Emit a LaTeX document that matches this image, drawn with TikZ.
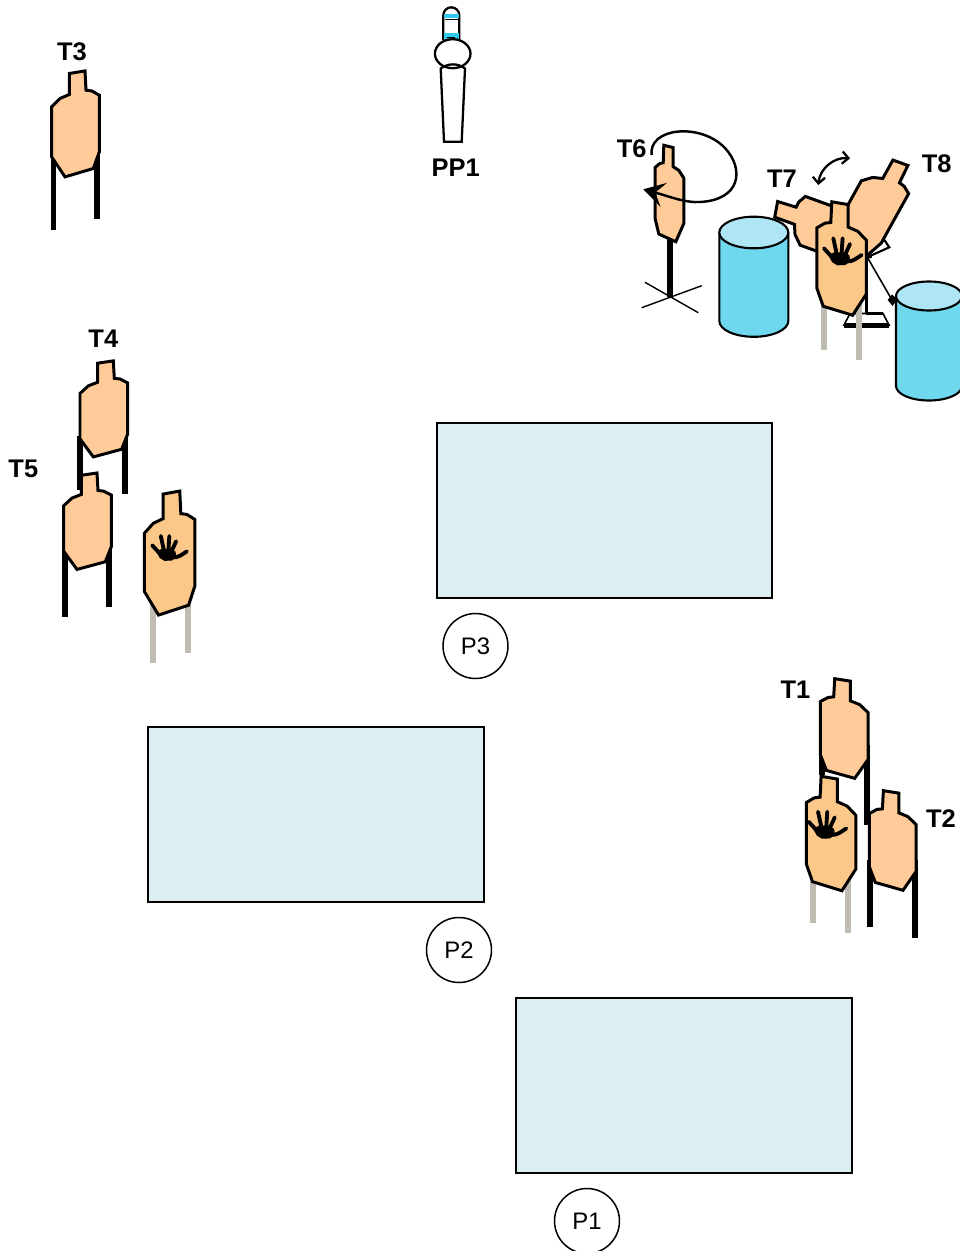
\documentclass[tikz,border=0pt]{standalone}
\usepackage{fontspec}
\setmainfont{Liberation Sans}
\usetikzlibrary{arrows.meta}

\definecolor{paper}{HTML}{FFCC99}
\definecolor{noshoot}{HTML}{FBC88A}
\definecolor{legs}{HTML}{C0BCB4}
\definecolor{tablefill}{HTML}{DDEEF2}
\definecolor{barrelside}{HTML}{70D8EE}
\definecolor{barreltop}{HTML}{AEE6F6}
\definecolor{stripe}{HTML}{2DC8EC}

\begin{document}
\begin{tikzpicture}[x=0.02cm,y=-0.02cm,
    lbl/.style={font=\fontsize{14.5}{17}\selectfont\bfseries},
    station/.style={circle,draw,line width=0.85pt,minimum size=1.3cm,inner sep=0pt,font=\fontsize{13.6}{16}\selectfont},
    prop/.style={fill=tablefill,line width=0.8pt},
    leg/.style={line width=3.2pt},
    greyleg/.style={line width=3.2pt,draw=legs},
    silhouette/.pic={
        \filldraw[line width=1.7pt,pic actions] (-6.2,-50.2) -- (9.5,-52.8) -- (10.5,-33.5) -- (16.2,-32.8) -- (23.8,-28.5)
            -- (23.8,28.2) -- (17.8,44.8) -- (-10.5,53.2) -- (-23.8,33.2) -- (-23.8,-16.8) -- (-15.5,-25.2) -- (-6.2,-29.2) -- cycle;
    },
    hand/.pic={
        \fill (-11,-3) -- (-5,-6) -- (5,-6) -- (10,-3) -- (11,3) -- (6,6.7) -- (-2,7) -- (-7,4) -- cycle;
        \draw[line width=2.2pt,line cap=round] (-8,-2) -- (-15.4,-10) (-2.7,-5) -- (-6,-20) (2.3,-5) -- (3.3,-20) (5.7,-3.3) -- (10.7,-14.3);
        \draw[line width=2.2pt,line cap=round] (7,3) .. controls (13,4) and (17,0) .. (22.3,-3.3);
    }]
    \useasboundingbox (0,0) rectangle (960,1251);

    \filldraw[prop] (437,423) rectangle (772,598);
    \filldraw[prop] (148,727) rectangle (484,902);
    \filldraw[prop] (516,998) rectangle (852,1173);

    \node[station] (p3) at (475.5,646) {P3};
    \node[station] (p2) at (459,950) {P2};
    \node[station] (p1) at (587,1221) {P1};

    \draw[leg] (53.5,150) -- (53.5,230);
    \draw[leg] (97,145) -- (97,219);
    \pic[fill=paper] at (75.5,123.7) {silhouette};
    \node[lbl] (t3lbl) at (72,52) {T3};

    \draw[line width=1.3pt,fill=white] (443.3,40) -- (443.3,15.3) arc[start angle=180,end angle=360,x radius=8,y radius=8] -- (459.3,40);
    \fill[stripe] (444,14.3) rectangle (458.6,18.3);
    \draw[line width=0.6pt] (445,19.6) -- (457.6,19.6);
    \fill[stripe] (444,33.3) rectangle (458.6,38.6);
    \draw[line width=0.6pt] (446.5,37.6) -- (455,37.6);
    \filldraw[fill=white,line width=1.3pt] (452.7,53.7) ellipse[x radius=17.8,y radius=14.5];
    \draw[line width=1.3pt] (440.7,68.5) .. controls (448,63) and (458,63) .. (465,68.5) -- (461.7,141.7) -- (444,141.7) -- cycle;
    \node[lbl] (pp1lbl) at (455.8,167.7) {PP1};

    \draw[leg] (80,436) -- (80,490);
    \draw[leg] (125,436) -- (125,494);
    \pic[fill=paper,yscale=0.906] at (103.8,408.7) {silhouette};
    \draw[leg] (65.3,545) -- (65.3,617);
    \draw[leg] (109.3,540) -- (109.3,607);
    \pic[fill=paper,yscale=0.91] at (87.5,521) {silhouette};
    \draw[greyleg] (152.7,590) -- (152.7,663.3);
    \draw[greyleg] (187.7,590) -- (187.7,653.3);
    \pic[fill=noshoot,xscale=1.06,yscale=1.17] at (169.7,552.8) {silhouette};
    \pic[scale=0.92] at (166.3,554.4) {hand};
    \node[lbl] (t4lbl) at (103.3,339) {T4};
    \node[lbl] (t5lbl) at (23.3,469) {T5};

    \draw[leg] (821.7,745) -- (821.7,775);
    \draw[leg] (866.7,745) -- (866.7,825);
    \pic[fill=paper,xscale=-1,yscale=0.94] at (844.2,728.3) {silhouette};
    \draw[greyleg] (812.7,870) -- (812.7,923.3);
    \draw[greyleg] (848.3,870) -- (848.3,933.3);
    \pic[fill=noshoot,xscale=-1.04,yscale=1.08] at (831,833.3) {silhouette};
    \pic at (824,831.7) {hand};
    \draw[leg] (870,860) -- (870,926.7);
    \draw[leg] (915,860) -- (915,938.3);
    \pic[fill=paper,xscale=-0.98,yscale=0.94] at (892.7,840.3) {silhouette};
    \node[lbl] (t1lbl) at (795.5,690) {T1};
    \node[lbl] (t2lbl) at (941,819) {T2};

    \draw[line width=3.8pt] (670,230) -- (670,297);
    \draw[line width=0.8pt] (641.7,307.7) -- (701.7,285.7) (645,282.3) -- (698.3,312.7);
    \pic[fill=paper,xscale=-0.6,yscale=0.91] at (669.5,193.3) {silhouette};
    \coordinate (spinA) at (651.7,155);
    \coordinate (spinB) at (643.3,189.3);
    \draw[line width=1.4pt,-{Stealth[length=12pt,width=14pt,inset=5pt]}] (spinA) .. controls (648,128) and (700,122) .. (725,148)
        .. controls (745,170) and (740,200) .. (700,202) .. controls (685,203) and (668,196) .. (spinB);
    \node[lbl] (t6lbl) at (631.7,149) {T6};

    \pic[fill=paper,rotate=70] at (824,228.5) {silhouette};
    \filldraw[fill=white,line width=1.2pt] (845,253) -- (881.7,236) -- (889.3,247.3) -- (852,264) -- cycle;
    \pic[fill=paper,rotate=-29] at (874,207) {silhouette};
    \draw[line width=0.9pt] (866,255) -- (892,300);
    \fill (887.7,300) -- (892,294.5) -- (897.3,299.5) -- (892.5,306) -- cycle;
    \draw[line width=1.8pt] (866.7,290) -- (866.7,313.5);
    \filldraw[fill=white,line width=0.9pt] (850,313.5) -- (883,313.5) -- (889,325) -- (844,325) -- cycle;
    \draw[line width=1.8pt] (866,313.5) -- (883,313.5);
    \draw[line width=2.8pt] (844,325.5) -- (889.3,325.5);
    \draw[greyleg] (824,300) -- (824,350);
    \draw[greyleg] (859,300) -- (859,360);
    \pic[fill=noshoot,xscale=-1.04,yscale=1.07] at (841.7,258.3) {silhouette};
    \pic at (839.3,258.3) {hand};
    \coordinate (swingA) at (818.3,185);
    \coordinate (swingB) at (850,158.3);
    \draw[line width=1.3pt,{Straight Barb[length=3.5pt]}-{Straight Barb[length=3.5pt]}] (swingA) to[bend left=45] (swingB);
    \node[lbl] (t7lbl) at (782,179) {T7};
    \node[lbl] (t8lbl) at (936.7,164) {T8};

    \filldraw[fill=barrelside,line width=1.2pt] (719.3,232.5) -- (719.3,321) arc[start angle=180,end angle=0,x radius=34.5,y radius=15.8] -- (788.3,232.5);
    \filldraw[fill=barreltop,line width=1.2pt] (753.8,232.5) ellipse[x radius=34.5,y radius=15.8];
    \filldraw[fill=barrelside,line width=1.2pt] (896,296) -- (896,386) arc[start angle=180,end angle=0,x radius=33,y radius=14.5] -- (962,296);
    \filldraw[fill=barreltop,line width=1.2pt] (929,296) ellipse[x radius=33,y radius=14.5];
\end{tikzpicture}
\end{document}
